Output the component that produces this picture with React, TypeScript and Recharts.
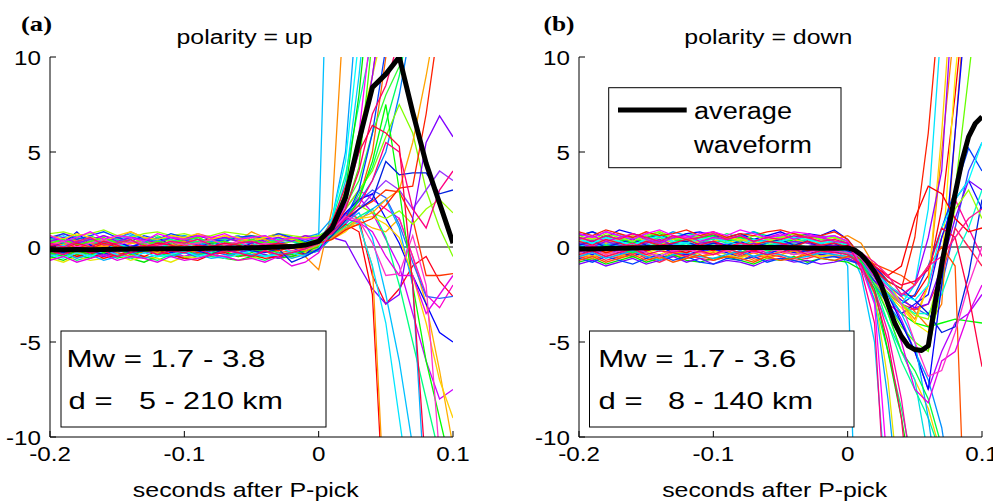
import React from 'react';
import { LineChart, Line, XAxis, YAxis } from 'recharts';

const FONT = '"Liberation Sans", Arial, Helvetica, sans-serif';
const SERIF = '"Liberation Serif", "Times New Roman", serif';

const TIMES = [-0.2, -0.19, -0.18, -0.17, -0.16, -0.15, -0.14, -0.13, -0.12, -0.11, -0.1, -0.09, -0.08, -0.07, -0.06, -0.05, -0.04, -0.03, -0.02, -0.01, 0, 0.01, 0.02, 0.03, 0.04, 0.05, 0.06, 0.07, 0.08, 0.09, 0.1];
const AVG_DOWN_TIMES = [-0.2, -0.19, -0.18, -0.17, -0.16, -0.15, -0.14, -0.13, -0.12, -0.11, -0.1, -0.09, -0.08, -0.07, -0.06, -0.05, -0.04, -0.03, -0.02, -0.01, 0, 0.005, 0.01, 0.015, 0.02, 0.025, 0.03, 0.035, 0.04, 0.045, 0.05, 0.055, 0.06, 0.065, 0.07, 0.075, 0.08, 0.085, 0.09, 0.095, 0.1];
const ZERO_T = [-0.2, 0.1];
const ZERO_V = [0, 0];
const X_TICKS = [-0.2, -0.1, 0, 0.1];
const Y_TICKS = [-10, -5, 0, 5, 10];

const UP_COLORS = [
  '#00d0ff', '#ff6000', '#33ff33', '#0080ff', '#cc00ff', '#ff0020', '#00ff60', '#ffb000', '#00c0ff', '#ff00cc', '#3060ff', '#ff3300', '#80ff00', '#ff1493', '#9933ff', '#00ff99',
  '#00bfff', '#ff8c00', '#00a0ff', '#00e600', '#e6e600', '#0000ff', '#8000ff', '#99ff00', '#ff0000', '#ff9900', '#00e5ff', '#00ff80', '#0040ff', '#00ff00', '#00b0ff', '#9900ff', '#ffa500', '#ffd000', '#00ffff', '#0020e0', '#40ff00', '#ff2000', '#ff00ff', '#e600e6', '#ff33cc', '#ff0080', '#ff0066', '#ff0040'];
const UP_WAVES: number[][] = [
  [0.4, 0.6, 0.3, 0.5, 0.2, 0.4, 0.6, 0.5, 0.3, 0.4, 0.6, 0.4, 0.2, 0.5, 0.3, 0.4, 0.6, 0.3, 0.5, 0.2, 0.5, 1.0, 3.5, 9, 16],
  [-0.1, -0.3, 0.0, -0.2, -0.1, -0.4, -0.2, 0.0, -0.3, -0.1, -0.2, -0.4, -0.1, -0.3, 0.0, -0.2, -0.1, -0.3, -0.2, 0.0, 0.1, 0.5, 1.2, 2.5, 5.0, 10, 15],
  [0.5, 0.3, 0.4, 0.6, 0.3, 0.5, 0.2, 0.4, 0.6, 0.3, 0.5, 0.4, 0.2, 0.5, 0.3, 0.6, 0.4, 0.3, 0.5, 0.4, 0.6, 1.0, 2.2, 3.5, 6.0, 8.0, 9.5, 12],
  [-0.3, -0.1, -0.4, -0.2, -0.5, -0.3, -0.1, -0.3, -0.2, -0.4, -0.1, -0.3, -0.2, -0.4, -0.3, -0.1, -0.2, -0.4, -0.3, -0.2, 0.0, 0.7, 1.6, 2.4, 3.5, 5.0, 8.0, 12],
  [0.1, 0.2, -0.1, 0.3, 0.0, 0.2, 0.1, -0.1, 0.2, 0.0, 0.3, 0.1, 0.0, 0.2, -0.1, 0.1, 0.3, 0.0, 0.1, -0.1, 0.2, 0.8, 1.7, 2.6, 1.8, 0.4, -1.0, -3.5, -6.0, -8.0, -7.5],
  [0.5, 0.2, 0.4, 0.1, 0.3, 0.5, 0.2, 0.4, 0.3, 0.1, 0.4, 0.2, 0.5, 0.3, 0.1, 0.4, 0.2, 0.3, 0.4, 0.1, 0.3, 0.9, 1.8, 1.5, -1.5, -3.0, -2.2, -1.0, -0.5, -1.8, -2.6],
  [-0.6, -0.4, -0.7, -0.5, -0.3, -0.6, -0.4, -0.5, -0.7, -0.4, -0.6, -0.3, -0.5, -0.6, -0.4, -0.5, -0.7, -0.4, -0.5, -0.3, -0.1, 0.6, 1.5, 2.8, 4.2, 6.5, 9.0, 13],
  [0.0, 0.2, -0.1, 0.1, -0.2, 0.0, 0.2, 0.1, -0.1, 0.0, 0.2, -0.1, 0.1, 0.0, -0.2, 0.1, 0.0, 0.2, -0.1, 0.0, 0.1, 0.4, 0.9, 1.4, 1.0, 0.8, 1.5, -0.5, -3.0, -6.5, -10.5],
  [0.3, 0.1, 0.2, 0.4, 0.1, 0.3, 0.0, 0.2, 0.4, 0.1, 0.3, 0.2, 0.0, 0.3, 0.1, 0.2, 0.4, 0.2, 0.1, 0.3, 0.2, 0.6, 1.3, 1.8, 0.5, -2.5, -6.0, -10.5],
  [-0.5, -0.3, -0.6, -0.2, -0.4, -0.5, -0.3, -0.6, -0.4, -0.2, -0.5, -0.3, -0.4, -0.6, -0.3, -0.5, -0.2, -0.4, -0.5, -0.3, 0.0, 0.9, 2.0, 3.0, 2.5, 2.0, 1.5, -0.5, -2.5, -3.2, -2.0],
  [0.2, 0.0, 0.3, 0.1, 0.4, 0.2, 0.0, 0.3, 0.1, 0.2, 0.4, 0.1, 0.3, 0.0, 0.2, 0.4, 0.1, 0.2, 0.3, 0.1, 0.3, 0.8, 1.6, 2.4, 3.0, 2.6, 1.2, -0.8, -2.6, -2.7, -2.6],
  [-0.2, 0.0, -0.3, -0.1, -0.2, 0.1, -0.1, -0.3, 0.0, -0.2, -0.1, -0.3, 0.0, -0.1, -0.2, 0.1, -0.1, -0.2, 0.0, -0.1, 0.2, 0.8, 1.5, 2.0, 2.4, 3.0, 2.9, 1.5, -1.5, -1.5, -1.4],
  [0.3, 0.5, 0.2, 0.4, 0.1, 0.3, 0.5, 0.2, 0.4, 0.3, 0.1, 0.4, 0.2, 0.5, 0.3, 0.2, 0.4, 0.1, 0.3, 0.2, 0.4, 1.0, 2.0, 3.0, 4.0, 5.8, 7.5, 6.0, 3.0, 1.0, -0.5],
  [0.4, 0.7, 0.5, 0.3, 0.6, 0.4, 0.8, 0.5, 0.3, 0.6, 0.4, 0.7, 0.5, 0.4, 0.6, 0.3, 0.5, 0.7, 0.4, 0.6, 0.5, 1.0, 2.5, 5.0, 9.0, 14],
  [-0.4, -0.2, -0.5, -0.3, -0.1, -0.4, -0.6, -0.3, -0.2, -0.4, -0.5, -0.2, -0.4, -0.3, -0.1, -0.4, -0.2, -0.5, -0.3, -0.4, -0.1, 0.5, 1.2, 2.0, 2.8, 3.5, 3.0, 2.0, 3.0, 4.0, 3.5],
  [0.1, -0.1, 0.2, 0.0, -0.2, 0.1, 0.0, -0.1, 0.2, 0.0, 0.1, -0.2, 0.0, 0.1, -0.1, 0.2, 0.0, -0.1, 0.1, 0.0, 0.3, 1.4, 3.8, 7.5, 11],
  [0.2, 0.4, 0.1, 0.5, 0.3, 0.2, 0.6, 0.3, 0.4, 0.1, 0.3, 0.5, 0.2, 0.4, 0.6, 0.3, 0.2, 0.5, 0.3, 0.4, 0.6, 25],
  [-0.3, -0.1, -0.4, -0.2, 0.0, -0.3, -0.5, -0.2, -0.1, -0.4, -0.3, -0.2, 0.1, -0.1, -0.3, -0.4, -0.2, -0.6, -0.3, -0.5, -1.2, 2.0, 14],
  [0.5, 0.3, 0.6, 0.4, 0.2, 0.5, 0.7, 0.4, 0.3, 0.5, 0.6, 0.4, 0.3, 0.5, 0.4, 0.6, 0.5, 0.3, 0.4, 0.5, 0.7, 1.5, 5, 14],
  [-0.5, -0.7, -0.4, -0.6, -0.3, -0.5, -0.6, -0.8, -0.5, -0.4, -0.6, -0.5, -0.3, -0.6, -0.7, -0.5, -0.4, -0.6, -0.5, -0.3, -0.2, 1.0, 3, 8, 15],
  [-0.6, -0.8, -0.5, -0.7, -0.6, -0.4, -0.7, -0.5, -0.6, -0.8, -0.5, -0.6, -0.4, -0.5, -0.7, -0.6, -0.5, -0.4, -0.6, -0.3, 0.0, 1.0, 2.5, 6, 9, 12],
  [0.0, 0.2, 0.8, 0.1, -0.2, 0.3, 0.0, 0.2, 0.5, 0.1, 0.3, 0.0, 0.2, 0.1, -0.1, 0.2, 0.4, 0.1, 0.0, -0.4, 0.2, 0.9, 1.8, 2.5, 2.8, 1.5, 0.2, -1.5, -3.0, -4.5, -5.0],
  [-0.2, -0.4, -0.1, -0.3, -0.5, -0.2, -0.3, -0.1, -0.4, -0.2, -0.3, -0.5, -0.2, -0.1, -0.3, -0.2, -0.4, -0.6, -0.3, -0.5, -0.1, 0.5, 0.3, -1.0, -2.2, -3.0, -2.5, 1.5, 5.5, 6.9, 5.8],
  [0.7, 0.8, 0.6, 0.7, 0.9, 0.6, 0.5, 0.7, 0.8, 0.6, 0.7, 0.5, 0.6, 0.8, 0.7, 0.6, 0.5, 0.7, 0.6, 0.5, 0.6, 0.8, 1.6, 2.2, 1.8, 1.5, 1.9, 1.2, 2.0, 2.5, 1.8],
  [-0.4, -0.2, -0.5, -0.3, -0.6, -0.4, -0.3, -0.5, -0.2, -0.4, -0.6, -0.7, -0.4, -0.3, -0.5, -0.4, -0.6, -0.5, -0.3, -0.4, -0.2, 0.6, 1.2, 0.8, -2.5, -16],
  [0.3, 0.1, 0.4, 0.2, 0.0, 0.3, 0.2, 0.4, 0.1, 0.3, 0.5, 0.2, 0.4, 0.6, 0.3, 0.8, 0.5, 0.3, 0.4, 0.2, 0.3, 0.5, 1.0, 1.2, -1.0, -15],
  [-0.1, 0.1, -0.3, 0.0, -0.2, 0.2, -0.1, 0.0, 0.3, -0.2, 0.1, 0.0, -0.1, 0.2, 0.0, -0.2, 0.1, 0.0, -0.3, -0.1, 0.1, 0.7, 1.5, 1.2, -1.0, -4.0, -9.0, -14],
  [0.4, 0.2, 0.5, 0.3, 0.1, 0.4, 0.3, 0.2, 0.5, 0.4, 0.2, 0.3, 0.1, 0.4, 0.5, 0.3, 0.2, 0.4, 0.3, 0.1, 0.2, 0.6, 1.1, 1.6, 2.0, 0.5, -2.0, -5.0, -8.0, -11],
  [0.5, 0.7, 0.4, 0.6, 0.8, 0.5, 0.3, 0.6, 0.4, 0.7, 0.5, 0.6, 0.4, 0.3, 0.5, 0.6, 0.4, 0.7, 0.5, 0.3, 0.5, 0.8, 1.5, 3.0, 6.0, 10.5, 16],
  [-0.3, -0.5, -0.2, -0.4, -0.3, -0.1, -0.4, -0.2, -0.3, -0.5, -0.2, -0.4, -0.3, -0.2, -0.5, -0.3, -0.1, -0.3, -0.4, -0.2, 0.0, 0.6, 1.4, 2.5, 4.5, 7.5, 3.0, -2.0, -6.0, -9.0, -12],
  [-0.5, -0.3, -0.6, -0.4, -0.7, -0.5, -0.3, -0.6, -0.4, -0.5, -0.3, -0.4, -0.6, -0.5, -0.3, -0.4, -0.5, -0.3, -0.6, -0.4, -0.2, 0.5, 1.0, 1.4, 2.0, 2.5, 1.0, -2.0, -14],
  [0.3, 0.5, 0.2, 0.4, 0.6, 0.3, 0.5, 0.4, 0.2, 0.5, 0.3, 0.6, 0.4, 0.5, 0.3, 0.2, 0.4, 0.5, 0.3, 0.6, 0.4, 1.2, 2.8, 5.0, 9.0, 14],
  [-0.2, 0.0, -0.3, -0.1, 0.1, -0.2, 0.0, -0.1, -0.3, 0.1, 0.3, 0.0, -0.2, 0.1, 0.2, 0.5, 0.4, 0.1, 0.0, -0.2, 0.1, 0.5, 1.0, 1.5, 1.8, 2.5, 3.0, 5.5, 9.0, 13],
  [0.6, 0.4, 0.7, 0.5, 0.3, 0.6, 0.8, 0.5, 0.4, 0.6, 0.5, 0.7, 0.4, 0.6, 0.5, 0.3, 0.5, 0.6, 0.4, 0.5, 0.4, 0.4, 0.8, 1.5, 1.6, 1.2, 0.5, -1.5, -4.0, -7.0, -9.0],
  [-0.4, -0.6, -0.3, -0.5, -0.2, -0.4, -0.6, -0.3, -0.5, -0.4, -0.2, -0.5, -0.3, -0.6, -0.4, -0.2, -0.5, -0.4, -0.3, -0.5, -0.1, 1.5, 4.5, 11],
  [-0.1, -0.3, 0.0, -0.2, -0.4, -0.1, -0.3, -0.2, 0.0, -0.3, -0.1, -0.2, -0.4, -0.1, 0.0, -0.2, -0.3, -0.1, -0.8, -0.5, -0.1, 0.6, 1.4, 2.0, 2.5, 4.5, 3.8, 3.9, 3.9, 2.8, 3.0],
  [0.2, 0.4, 0.1, 0.3, 0.5, 0.2, 0.4, 0.1, 0.3, 0.2, 0.4, 0.5, 0.2, 0.3, 0.1, 0.4, 0.2, 0.3, 0.5, 0.2, 0.4, 0.9, 2.0, 4.2, 11],
  [0.0, -0.2, 0.1, -0.1, 0.2, 0.0, -0.1, 0.1, -0.2, 0.0, 0.1, -0.1, 0.0, 0.2, -0.1, 0.0, 0.1, -0.2, 0.0, 0.1, 0.2, 0.4, 0.9, 1.2, 1.5, 2.2, 3.1, 3.2, 7.0, 12],
  [0.6, 0.3, 0.5, 0.8, 0.4, 0.6, 0.5, 0.3, 0.7, 0.5, 0.4, 0.6, 0.5, 0.7, 0.4, 0.5, 0.6, 0.3, 0.5, 0.4, 0.5, 0.8, 2.2, 6, 12],
  [-0.7, -0.5, -0.8, -0.6, -0.4, -0.7, -0.5, -0.6, -0.8, -0.5, -0.7, -0.6, -0.4, -0.5, -0.7, -0.6, -0.8, -0.5, -1.0, -0.8, -0.3, 1.0, 1.5, 1.3, 0.8, -0.5, -1.5, -1.5, -3.5, -2.5, -1.5],
  [0.1, 0.3, 0.0, 0.2, 0.4, 0.1, 0.3, 0.2, 0.0, 0.3, 0.1, 0.2, 0.4, 0.1, 0.3, 0.0, 0.2, 0.1, -0.2, -0.1, 0.2, 0.9, 1.6, 1.4, 0.2, -1.5, -1.4, 0.6, -2.0, -11],
  [0.2, 0.0, 0.3, 0.5, 0.1, 0.2, 0.4, 0.0, 0.1, 0.3, 0.2, 0.4, 0.1, 0.0, 0.2, 0.3, 0.1, 0.2, 0.0, 0.1, 0.4, 0.7, 1.5, 2.2, 3.5, 5.5, 5.0, 2.0, 1.0, 3.0, 4.0],
  [-0.2, -0.4, -0.1, -0.3, -0.2, -0.5, -0.3, -0.1, -0.4, -0.2, -0.3, -0.1, -0.4, -0.2, -0.3, -0.5, -0.2, -0.4, -0.3, -0.1, 0.2, 0.8, 2.0, 4.0, 7.0, 8.5, 11],
  [0.1, -0.1, 0.2, 0.0, 0.3, 0.1, -0.2, 0.0, 0.2, 0.1, -0.1, 0.1, 0.0, 0.2, 0.1, -0.1, 0.0, 0.2, 0.1, 0.0, 0.3, 1.3, 3.2, 5.0, 6.4, 6.0, 5.3, -2, -12],
];
const UP_AVG = [-0.15, -0.14, -0.13, -0.14, -0.13, -0.12, -0.11, -0.1, -0.09, -0.09, -0.09, -0.08, -0.07, -0.06, -0.05, -0.04, -0.02, 0.0, 0.02, 0.1, 0.3, 1.0, 2.6, 5.6, 8.4, 9.1, 10.0, 7.1, 4.4, 2.3, 0.2];

const DOWN_COLORS = [
  '#00c8ff', '#ffcc00', '#00ff70', '#3050ff', '#ff0000', '#ff7700', '#00e0e0', '#b000ff', '#ff0099', '#66ff00', '#0090ff', '#ff2050', '#ffee00', '#ff00aa', '#1010ff', '#00ffcc',
  '#00bfff', '#e6e600', '#00a0ff', '#00e600', '#00ff90', '#0000ff', '#8000ff', '#ff8c00', '#0040ff', '#00e5ff', '#00ff00', '#ffd000', '#9900ff', '#00b0ff', '#0020e0', '#ff5000', '#00ffff', '#99ff00', '#00ff40', '#ff0000', '#ff2000', '#ff00ff', '#e600e6', '#ff33cc', '#ff0080', '#ff0066', '#ff0040', '#ff1493'];
const DOWN_WAVES: number[][] = [
  [0.4, 0.2, 0.5, 0.3, 0.6, 0.4, 0.2, 0.5, 0.3, 0.4, 0.6, 0.3, 0.5, 0.2, 0.4, 0.3, 0.5, 0.4, 0.2, 0.3, 0.1, -1.5, -5.0, -14],
  [-0.2, 0.0, -0.3, -0.1, 0.1, -0.2, -0.4, -0.1, 0.0, -0.2, -0.3, -0.1, 0.1, -0.2, 0.0, -0.1, -0.3, -0.2, 0.0, -0.1, -0.2, -0.7, -1.8, -3.5, -5.5, -7.0, -8.5, -11],
  [0.6, 0.8, 0.5, 0.7, 0.4, 0.6, 0.8, 0.5, 0.7, 0.6, 0.4, 0.7, 0.5, 0.8, 0.6, 0.5, 0.7, 0.4, 0.6, 0.5, 0.2, -1.0, -2.8, -5.5, -8.5, -12],
  [-0.3, -0.5, -0.2, -0.4, -0.1, -0.3, -0.5, -0.2, -0.4, -0.3, -0.1, -0.4, -0.2, -0.5, -0.3, -0.2, -0.4, -0.1, -0.3, -0.2, -0.4, -0.8, -1.5, -2.2, -2.8, -3.2, -3.6, -2.0, 1.0, 4.0, 5.5],
  [0.1, 0.3, 0.0, 0.2, 0.4, 0.1, -0.1, 0.2, 0.3, 0.0, 0.2, 0.4, 0.1, 0.3, 0.0, 0.2, 0.1, 0.3, 0.0, 0.2, 0.0, -0.5, -1.2, -2.0, -2.5, -2.6, -1.5, 2.0, 8.0, 15],
  [-0.5, -0.7, -0.4, -0.6, -0.3, -0.5, -0.7, -0.4, -0.6, -0.5, -0.3, -0.6, -0.4, -0.7, -0.5, -0.4, -0.6, -0.3, -0.5, -0.4, -0.6, -0.9, -1.4, -2.0, -2.6, -3.4, -4.2, -3.0, 6.0, 15],
  [0.0, 0.2, -0.1, 0.1, -0.2, 0.0, 0.2, 0.0, -0.1, 0.1, 0.2, -0.1, 0.0, 0.2, -0.1, 0.1, 0.0, -0.2, 0.1, 0.0, -0.3, -1.0, -2.5, -4.0, -5.5, -7.0, -11],
  [0.5, 0.3, 0.6, 0.4, 0.2, 0.5, 0.3, 0.6, 0.4, 0.2, 0.5, 0.3, 0.6, 0.4, 0.3, 0.5, 0.2, 0.4, 0.6, 0.3, 0.2, -0.6, -1.5, -2.5, -3.8, -5.5, -7.5, -5.5, -4.0, -3.5, -2.5],
  [-0.1, -0.3, 0.0, -0.2, -0.4, -0.1, 0.1, -0.2, -0.3, -0.1, 0.0, -0.2, -0.4, -0.1, -0.3, 0.0, -0.2, -0.1, -0.3, -0.2, -0.3, -0.9, -2.0, -3.0, -3.5, -3.2, -2.0, 0.5, 2.5, 1.0, -0.5],
  [0.2, 0.0, 0.3, 0.1, -0.1, 0.2, 0.4, 0.1, 0.0, 0.2, 0.3, 0.0, 0.2, 0.1, -0.1, 0.2, 0.0, 0.3, 0.1, 0.0, -0.1, -0.7, -1.8, -3.0, -4.2, -5.0, -5.5, -2.0, 3.0, 9.0, 15],
  [0.7, 0.5, 0.8, 0.6, 0.4, 0.7, 0.5, 0.8, 0.6, 0.5, 0.7, 0.4, 0.6, 0.8, 0.5, 0.6, 0.4, 0.7, 0.5, 0.6, 0.3, -0.8, -2.0, -3.0, -4.0, -5.5, -7.0, -9.5, -14],
  [-0.6, -0.4, -0.7, -0.5, -0.3, -0.6, -0.8, -0.5, -0.4, -0.6, -0.7, -0.5, -0.3, -0.6, -0.4, -0.5, -0.7, -0.6, -0.4, -0.5, -0.6, -1.0, -1.8, -2.5, -3.0, -3.3, -3.0, -1.5, 1.0, 0.0, -1.0],
  [0.3, 0.5, 0.2, 0.4, 0.1, 0.3, 0.5, 0.3, 0.2, 0.4, 0.5, 0.2, 0.4, 0.3, 0.1, 0.4, 0.2, 0.5, 0.3, 0.4, 0.0, -0.6, -1.5, -2.5, -3.2, -4.0, -4.5, -1.0, 9, 16],
  [0.0, -0.2, 0.1, -0.1, 0.2, 0.0, -0.2, 0.1, -0.1, 0.0, 0.2, -0.1, 0.1, -0.2, 0.0, 0.1, -0.1, 0.0, 0.2, -0.1, -0.1, -0.8, -2.2, -4.5, -8.0, -13],
  [-0.2, -0.4, -0.1, -0.3, -0.5, -0.2, 0.0, -0.3, -0.4, -0.2, -0.1, -0.3, -0.5, -0.2, -0.4, -0.1, -0.3, -0.2, -0.4, -0.3, -0.2, -0.7, -1.5, -2.5, -3.5, -3.0, -2.5, 0.5, 2.5, 3.5, 2.0],
  [0.4, 0.6, 0.3, 0.5, 0.2, 0.4, 0.6, 0.3, 0.5, 0.4, 0.2, 0.5, 0.3, 0.6, 0.4, 0.3, 0.5, 0.2, 0.4, 0.3, 0.1, -0.5, -1.2, -2.2, -3.0, -3.5, -3.5, -2.5, -0.5, 1.0, 3.0],
  [0.2, 0.4, 0.1, 0.3, 0.5, 0.2, 0.3, 0.1, 0.4, 0.2, 0.3, 0.5, 0.2, 0.4, 0.3, 0.1, 0.2, 0.4, 0.3, 0.2, -1.0, -25],
  [-0.3, -0.5, -0.2, -0.4, -0.6, -0.3, -0.1, -0.4, -0.5, -0.3, -0.2, -0.4, -0.6, -0.3, -0.5, -0.2, -0.4, -0.3, -0.5, -0.4, -0.5, -0.8, -2.5, -7.0, -14],
  [0.1, -0.1, 0.2, 0.0, -0.2, 0.1, 0.3, 0.0, -0.1, 0.2, 0.1, -0.1, 0.0, 0.2, -0.2, 0.1, 0.0, -0.1, 0.2, 0.0, -0.3, -0.9, -2.8, -8.0, -15],
  [-0.8, -0.6, -0.9, -0.7, -0.5, -0.8, -0.6, -0.4, -0.7, -0.8, -0.6, -0.5, -0.7, -0.9, -0.6, -0.7, -0.5, -0.8, -0.6, -0.7, -0.8, -1.2, -2.2, -5.5, -9.0, -13],
  [0.3, 0.1, 0.4, 0.2, 0.0, 0.3, 0.5, 0.2, 0.1, 0.3, 0.4, 0.2, 0.0, 0.3, 0.1, 0.2, 0.4, 0.3, 0.1, 0.2, 0.0, -0.8, -2.0, -4.0, -6.0, -7.5, -9.0, -11],
  [0.6, 0.8, 0.5, 0.9, 0.7, 0.5, 0.6, 0.4, 0.7, 0.8, 0.6, 0.5, 0.7, 0.4, 0.6, 0.8, 0.5, 0.7, 0.6, 0.9, 0.4, -0.5, -1.5, -2.5, -4.0, -5.5, -7.5, -2.0, 6.0, 14],
  [-0.9, -0.7, -1.0, -0.8, -0.6, -0.9, -0.7, -0.5, -0.8, -0.6, -0.9, -0.7, -0.8, -1.0, -0.7, -0.6, -0.8, -0.7, -0.9, -0.8, -0.6, -0.9, -1.4, -2.2, -2.8, -3.2, -3.0, -1.0, 1.5, 3.5, 3.0],
  [-0.4, -0.6, -0.3, -0.5, -0.2, -0.4, -0.6, -0.3, -0.3, -0.5, -0.4, -0.2, -0.5, -0.3, -0.6, -0.4, -0.2, -0.5, -0.3, 0.4, 0.6, 0.2, -1.0, -2.0, -3.0, -3.8, -2.0, 5.0, 12],
  [-0.6, -0.8, -0.5, -0.7, -0.9, -0.6, -0.4, -0.7, -0.5, -0.8, -0.9, -0.6, -0.7, -0.5, -0.8, -0.6, -0.7, -0.9, -0.6, -0.5, -0.7, -0.9, -1.8, -2.4, -3.0, -2.5, -1.0, 1.0, 3.0, 5.2, 4.0],
  [0.0, 0.2, -0.1, 0.1, 0.3, 0.0, -0.2, 0.1, 0.2, 0.0, -0.1, 0.2, 0.0, 0.1, -0.1, 0.3, 0.1, 0.0, 0.2, -0.1, -0.2, -0.5, -1.4, -2.0, -3.0, -2.0, 2.0, 12],
  [0.5, 0.3, 0.6, 0.4, 0.2, 0.5, 0.7, 0.4, 0.3, 0.5, 0.6, 0.3, 0.5, 0.4, 0.2, 0.5, 0.3, 0.6, 0.4, 0.3, 0.1, -0.7, -1.6, -2.5, -3.5, -4.0, -4.2, -4.0, -3.8, -3.9, -4.0],
  [0.3, 0.5, 0.2, 0.4, 0.6, 0.3, 0.1, 0.4, 0.5, 0.2, 0.3, 0.5, 0.4, 0.2, 0.3, 0.5, 0.4, 0.2, 0.3, 0.1, -0.1, -0.4, -1.0, -1.8, -3.0, -4.0, -2.0, 6.0, 16],
  [0.2, 0.0, 0.3, 0.1, -0.1, 0.2, 0.4, 0.1, 0.0, 0.2, 0.3, 0.1, -0.1, 0.2, 0.0, 0.1, 0.3, 0.2, 0.0, 0.1, 0.0, -0.4, -1.0, -2.0, -2.6, -2.0, 0.5, 4.0, 15],
  [-0.5, -0.3, -0.6, -0.4, -0.2, -0.5, -0.7, -0.4, -0.3, -0.5, -0.6, -0.4, -0.2, -0.5, -0.3, -0.4, -0.6, -0.5, -0.3, -0.4, -0.5, -0.8, -1.6, -2.5, -3.5, -5.0, -9.0, -14],
  [0.1, 0.3, 0.0, 0.2, 0.4, 0.1, -0.1, 0.2, 0.3, 0.0, 0.2, 0.1, 0.3, 0.0, 0.2, 0.4, 0.1, 0.3, 0.0, 0.2, -0.2, -0.5, -1.0, -1.8, -2.2, -2.8, -3.5, -4.5, -4.2, -1.5, 2.5],
  [-0.7, -0.5, -0.8, -0.6, -0.4, -0.7, -0.5, -0.8, -0.6, -0.4, -0.7, -0.5, -0.6, -0.8, -0.5, -0.7, -0.6, -0.4, -0.6, -0.7, -0.5, -0.6, -0.9, -1.2, -1.5, -2.0, -1.0, 0.0, -1.0, -20],
  [0.4, 0.2, 0.5, 0.3, 0.1, 0.4, 0.6, 0.3, 0.2, 0.4, 0.5, 0.3, 0.1, 0.4, 0.2, 0.3, 0.5, 0.4, 0.2, 0.3, 0.1, -0.6, -1.3, -2.0, -2.5, -2.8, -2.0, 1.0, 2.5, 3.5, 5.5],
  [0.6, 0.4, 0.7, 0.5, 0.3, 0.6, 0.8, 0.5, 0.4, 0.6, 0.7, 0.5, 0.3, 0.6, 0.4, 0.5, 0.7, 0.6, 0.4, 0.5, 0.3, -0.6, -1.5, -2.4, -3.0, -3.6, -3.8, -1.0, 2.0, 3.0, 1.5],
  [0.0, -0.2, 0.1, -0.1, -0.3, 0.0, 0.2, -0.1, -0.2, 0.0, 0.1, -0.1, -0.3, 0.0, -0.2, -0.1, 0.1, 0.0, -0.2, -0.1, -0.4, -0.8, -2.0, -3.5, -5.5, -6.5, -8.0, -10.5, -16],
  [-0.2, 0.0, -0.3, -0.1, 0.1, -0.2, 0.0, -0.1, -0.3, 0.0, -0.2, 0.1, -0.1, -0.2, 0.0, -0.1, 0.1, -0.2, 0.0, -0.1, 0.1, -0.4, -1.0, -1.5, -1.0, 1.5, 3.2, 2.8, 1.5, 0.8, 1.0],
  [0.8, 0.6, 0.9, 0.7, 0.5, 0.8, 0.6, 0.7, 0.9, 0.6, 0.8, 0.5, 0.7, 0.6, 0.8, 0.9, 0.7, 0.5, 0.6, 0.8, 0.4, -0.5, -1.2, -1.8, -2.2, 0.5, 6.0, 14],
  [0.7, 0.5, 0.8, 0.6, 0.4, 0.7, 0.9, 0.6, 0.5, 0.7, 0.8, 0.6, 0.9, 0.7, 0.5, 0.6, 0.8, 0.7, 0.5, 0.6, 0.3, -1.0, -3.0, -12],
  [0.4, 0.6, 0.3, 0.5, 0.7, 0.4, 0.2, 0.5, 0.6, 0.3, 0.5, 0.4, 0.6, 0.3, 0.5, 0.7, 0.4, 0.6, 0.5, 0.3, 0.2, -0.6, -1.6, -3.0, -5.0, -7.5, -8.2, -6.0, -5.5, -3.5, -2.0],
  [-0.3, -0.1, -0.4, -0.2, 0.0, -0.3, -0.5, -0.2, -0.1, -0.3, -0.4, -0.2, 0.0, -0.3, -0.1, -0.2, -0.4, -0.3, -0.1, -0.2, -0.3, -0.5, -1.3, -2.2, -3.0, -5.0, -6.8, -6.5, -4.5, -2.0, 0.0],
  [0.5, 0.3, 0.6, 0.4, 0.7, 0.5, 0.3, 0.6, 0.4, 0.5, 0.7, 0.4, 0.6, 0.3, 0.5, 0.4, 0.6, 0.5, 0.3, 0.4, 0.2, -1.2, -4.0, -16],
  [-0.4, -0.2, -0.5, -0.3, -0.1, -0.4, -0.2, -0.3, -0.5, -0.2, -0.4, -0.1, -0.3, -0.2, -0.4, -0.3, -0.1, -0.4, -0.2, -0.3, -0.4, -0.9, -2.4, -5.0, -9.0, -16],
  [0.3, 0.1, 0.4, 0.2, 0.0, 0.3, 0.1, 0.2, 0.4, 0.1, 0.3, 0.0, 0.2, 0.1, 0.3, 0.2, 0.0, 0.3, 0.1, 0.2, 0.0, -0.4, -1.0, -1.6, -2.0, -1.8, -1.2, 1.0, 0.5, -2.5, -6.3],
  [-0.1, 0.1, -0.2, 0.0, 0.2, -0.1, 0.1, 0.0, -0.2, 0.1, 0.0, -0.1, 0.2, 0.0, -0.1, 0.1, -0.2, 0.0, 0.1, -0.1, 0.0, -0.3, -0.8, -1.5, -2.5, -2.0, -1.0, -0.5, 0.5, 1.5, 2.0],
];
const DOWN_AVG = [-0.1, -0.1, -0.08, -0.06, -0.05, -0.04, -0.03, -0.03, -0.02, -0.02, -0.02, -0.02, -0.02, -0.02, -0.03, -0.03, -0.04, -0.05, -0.06, -0.07, -0.05, -0.15, -0.4, -0.8, -1.3, -2.0, -3.0, -4.0, -4.7, -5.2, -5.4, -5.45, -5.2, -3.0, -0.9, 0.9, 2.8, 4.5, 5.8, 6.5, 6.85];

type Pt = { t: number; v: number };
function toPoints(times: number[], vals: number[]): Pt[] {
  return vals.map((v, i) => ({ t: times[i], v }));
}

const XTick = (p: any) => (
  <g transform={`translate(${p.x},${p.y})`}>
    <text transform="scale(1.18,1)" textAnchor="middle" dy="0.71em" fontSize={20.5} fontFamily={FONT} fill="#000">
      {String(p.payload.value)}
    </text>
  </g>
);
const YTick = (p: any) => (
  <g transform={`translate(${p.x},${p.y + 1})`}>
    <text transform="scale(1.18,1)" textAnchor="end" dy="0.36em" fontSize={20.5} fontFamily={FONT} fill="#000">
      {String(p.payload.value)}
    </text>
  </g>
);
const NoTick = () => null;

const axisStroke = { stroke: '#000', strokeWidth: 1 };

function Panel(props: {
  waves: number[][];
  colors: string[];
  avgT: number[];
  avgV: number[];
  left: number;
  width: number;
  yAxisWidth: number;
  rightMargin: number;
}) {
  const { waves, colors, avgT, avgV, left, width, yAxisWidth, rightMargin } = props;
  return (
    <div style={{ position: 'absolute', left, top: 0 }}>
      <LineChart width={width} height={503} margin={{ top: 57, right: rightMargin, bottom: 36, left: 0 }}>
        <XAxis type="number" dataKey="t" domain={[-0.2, 0.1]} ticks={X_TICKS} interval={0} allowDataOverflow height={30}
          tickSize={-6} tickMargin={15} tick={<XTick />} axisLine={axisStroke} tickLine={axisStroke} />
        <XAxis xAxisId="top" orientation="top" type="number" dataKey="t" domain={[-0.2, 0.1]} ticks={X_TICKS} interval={0}
          allowDataOverflow height={0} tickSize={-6} tick={<NoTick />} axisLine={axisStroke} tickLine={axisStroke} />
        <YAxis type="number" domain={[-10, 10]} ticks={Y_TICKS} interval={0} allowDataOverflow width={yAxisWidth}
          tickSize={-6} tickMargin={15} tick={<YTick />} axisLine={axisStroke} tickLine={axisStroke} />
        <YAxis yAxisId="right" orientation="right" type="number" domain={[-10, 10]} ticks={Y_TICKS} interval={0}
          allowDataOverflow width={0} tickSize={-6} tick={<NoTick />} axisLine={axisStroke} tickLine={axisStroke} />
        <Line data={toPoints(ZERO_T, ZERO_V)} dataKey="v" stroke="#000" strokeWidth={1} dot={false} activeDot={false} isAnimationActive={false} />
        {waves.map((w, i) => (
          <Line key={i} data={toPoints(TIMES, w)} dataKey="v" stroke={colors[i]} strokeWidth={1.3} dot={false}
            activeDot={false} isAnimationActive={false} />
        ))}
        <Line data={toPoints(avgT, avgV)} dataKey="v" stroke="#000" strokeWidth={5} strokeLinejoin="round" dot={false}
          activeDot={false} isAnimationActive={false} />
      </LineChart>
    </div>
  );
}

export default function App() {
  return (
    <div style={{ position: 'absolute', left: 0, top: 0, width: 993, height: 503, background: '#fff', overflow: 'hidden' }}>
      <Panel waves={UP_WAVES} colors={UP_COLORS} avgT={TIMES} avgV={UP_AVG} left={0} width={480} yAxisWidth={50} rightMargin={27} />
      <Panel waves={DOWN_WAVES} colors={DOWN_COLORS} avgT={AVG_DOWN_TIMES} avgV={DOWN_AVG} left={500} width={493} yAxisWidth={79} rightMargin={11} />
      <svg width={993} height={503} style={{ position: 'absolute', left: 0, top: 0, pointerEvents: 'none' }}>
        <text x={21} y={31} fontFamily={SERIF} fontWeight="bold" fontSize={21} textLength={31} lengthAdjust="spacingAndGlyphs">(a)</text>
        <text x={543.5} y={31} fontFamily={SERIF} fontWeight="bold" fontSize={21} textLength={31} lengthAdjust="spacingAndGlyphs">(b)</text>
        <text x={244.5} y={43.5} textAnchor="middle" fontFamily={FONT} fontSize={20} textLength={136} lengthAdjust="spacingAndGlyphs">polarity = up</text>
        <text x={768.3} y={43.5} textAnchor="middle" fontFamily={FONT} fontSize={20} textLength={168} lengthAdjust="spacingAndGlyphs">polarity = down</text>
        <text x={245.8} y={497} textAnchor="middle" fontFamily={FONT} fontSize={21} textLength={226} lengthAdjust="spacingAndGlyphs">seconds after P-pick</text>
        <text x={774.7} y={497} textAnchor="middle" fontFamily={FONT} fontSize={21} textLength={225} lengthAdjust="spacingAndGlyphs">seconds after P-pick</text>

        <rect x={61} y={331} width={265} height={96} fill="#fff" stroke="#000" strokeWidth={1} />
        <text x={66.5} y={367} fontFamily={FONT} fontSize={24} textLength={199} lengthAdjust="spacingAndGlyphs">Mw = 1.7 - 3.8</text>
        <text x={68.5} y={408.5} fontFamily={FONT} fontSize={24} textLength={44} lengthAdjust="spacingAndGlyphs">d =</text>
        <text x={139} y={408.5} fontFamily={FONT} fontSize={24} textLength={144} lengthAdjust="spacingAndGlyphs">5 - 210 km</text>

        <rect x={589.5} y={331} width={264.5} height={96} fill="#fff" stroke="#000" strokeWidth={1} />
        <text x={598.2} y={367} fontFamily={FONT} fontSize={24} textLength={198} lengthAdjust="spacingAndGlyphs">Mw = 1.7 - 3.6</text>
        <text x={598.5} y={408.5} fontFamily={FONT} fontSize={24} textLength={44} lengthAdjust="spacingAndGlyphs">d =</text>
        <text x={668} y={408.5} fontFamily={FONT} fontSize={24} textLength={145} lengthAdjust="spacingAndGlyphs">8 - 140 km</text>

        <rect x={608.7} y={87.7} width={232.3} height={80} fill="#fff" stroke="#000" strokeWidth={1} />
        <line x1={618} y1={110} x2={686.7} y2={110} stroke="#000" strokeWidth={5} />
        <text x={694} y={118.5} fontFamily={FONT} fontSize={23} textLength={98} lengthAdjust="spacingAndGlyphs">average</text>
        <text x={694} y={153} fontFamily={FONT} fontSize={23} textLength={118} lengthAdjust="spacingAndGlyphs">waveform</text>
      </svg>
    </div>
  );
}
